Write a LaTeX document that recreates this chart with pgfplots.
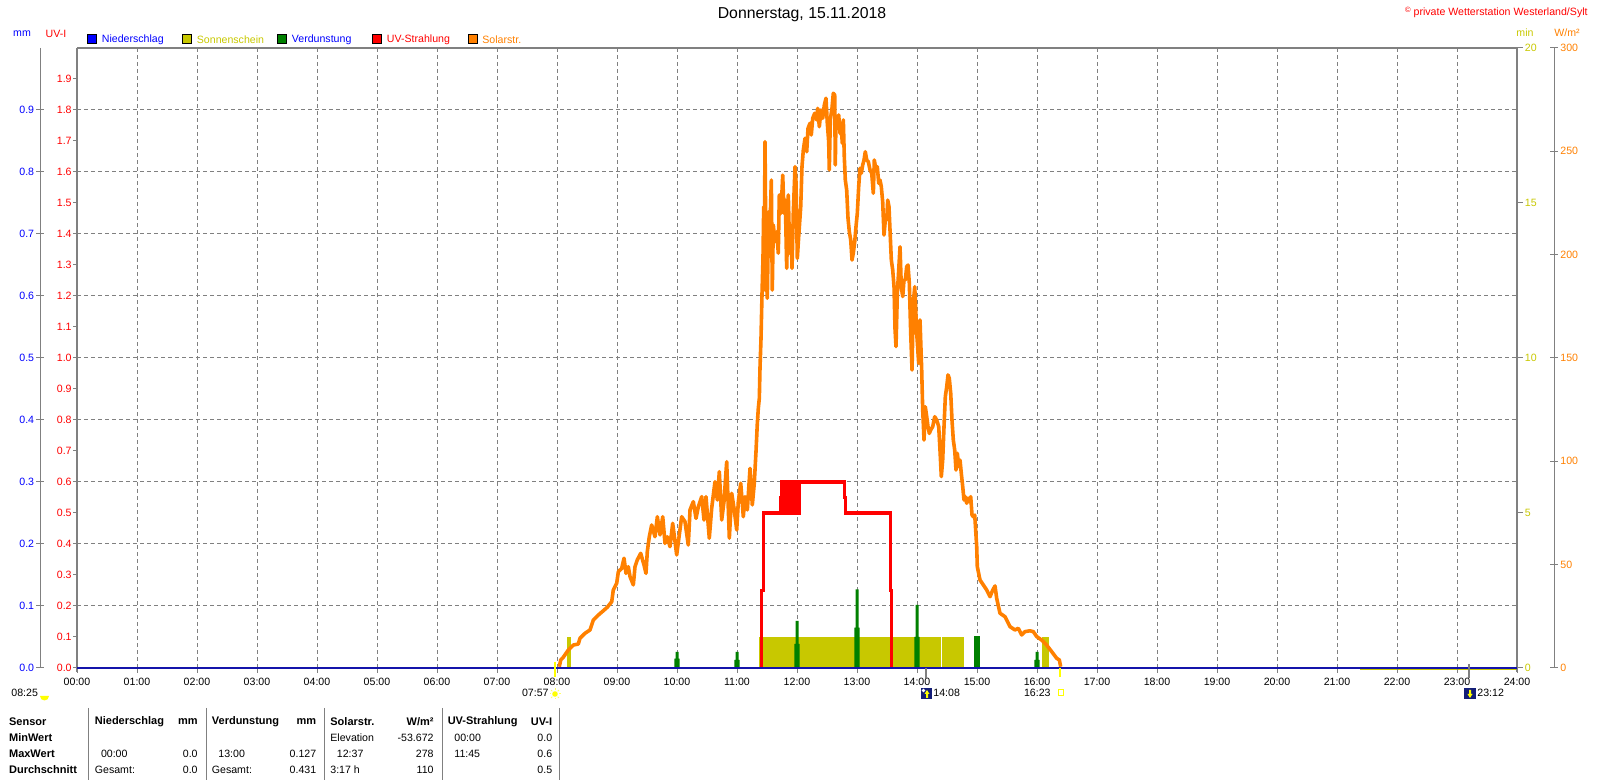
\documentclass[border=0pt]{standalone}
\usepackage{fontspec}
\setmainfont{Liberation Sans}
\usepackage{pgfplots}
\pgfplotsset{compat=1.18}
\usetikzlibrary{calc}
\definecolor{sunY}{RGB}{200,200,0}
\definecolor{evapG}{RGB}{0,128,0}
\definecolor{solO}{RGB}{255,128,0}
\definecolor{uvR}{RGB}{255,0,0}
\definecolor{rainB}{RGB}{0,0,255}
\definecolor{lineB}{RGB}{20,20,170}
\definecolor{axG}{RGB}{128,128,128}
\definecolor{brightY}{RGB}{255,255,0}
\definecolor{moonB}{RGB}{20,30,120}
\newcommand{\fs}{\fontsize{5.3pt}{6.3pt}\selectfont}
\newcommand{\fsb}{\fontsize{5.5pt}{6.5pt}\selectfont\bfseries}
\pgfplotsset{base/.style={width=720pt,height=310pt,scale only axis,at={(38.5pt,56pt)},anchor=south west,xmin=0,xmax=24,axis line style={draw=none},clip=false}}
\begin{document}
\begin{tikzpicture}
\path[use as bounding box] (0,0) rectangle (800pt,390pt);
% ---- Sonnenschein (min) + grid
\begin{axis}[base,ymin=0,ymax=20,xtick={1,...,23},ytick={2,4,...,18},xmajorgrids,ymajorgrids,
  major grid style={axG,line width=0.5pt,dash pattern=on 2pt off 1.5pt},
  xticklabels={},yticklabels={},major tick length=0pt,tick style={draw=none}]
\addplot[fill=sunY,draw=none] coordinates {(8.167,0)(8.167,1)(8.233,1)(8.233,0)} -- cycle;
\addplot[fill=sunY,draw=none] coordinates {(11.37,0)(11.37,1)(14.392,1)(14.392,0)} -- cycle;
\addplot[fill=sunY,draw=none] coordinates {(14.42,0)(14.42,1)(14.783,1)(14.783,0)} -- cycle;
\addplot[fill=sunY,draw=none] coordinates {(16.083,0)(16.083,1)(16.2,1)(16.2,0)} -- cycle;
\addplot[sunY,line width=1.5pt,yshift=-0.5pt] coordinates {(21.38,0)(24,0)};
\end{axis}
% ---- Verdunstung (mm)
\begin{axis}[base,ymin=0,ymax=1,ticks=none]
\addplot[fill=evapG,draw=none] coordinates {(9.958,0)(9.958,0.015)(9.975,0.015)(9.975,0.026)(10.025,0.026)(10.025,0.015)(10.042,0.015)(10.042,0)} -- cycle;
\addplot[fill=evapG,draw=none] coordinates {(10.958,0)(10.958,0.013)(10.975,0.013)(10.975,0.026)(11.025,0.026)(11.025,0.013)(11.042,0.013)(11.042,0)} -- cycle;
\addplot[fill=evapG,draw=none] coordinates {(11.958,0)(11.958,0.039)(11.975,0.039)(11.975,0.076)(12.025,0.076)(12.025,0.039)(12.042,0.039)(12.042,0)} -- cycle;
\addplot[fill=evapG,draw=none] coordinates {(12.958,0)(12.958,0.065)(12.975,0.065)(12.975,0.127)(13.025,0.127)(13.025,0.065)(13.042,0.065)(13.042,0)} -- cycle;
\addplot[fill=evapG,draw=none] coordinates {(13.958,0)(13.958,0.050)(13.975,0.050)(13.975,0.102)(14.025,0.102)(14.025,0.050)(14.042,0.050)(14.042,0)} -- cycle;
\addplot[fill=evapG,draw=none] coordinates {(14.958,0)(14.958,0.052)(15.042,0.052)(15.042,0)} -- cycle;
\addplot[fill=evapG,draw=none] coordinates {(15.958,0)(15.958,0.013)(15.975,0.013)(15.975,0.026)(16.025,0.026)(16.025,0.013)(16.042,0.013)(16.042,0)} -- cycle;
\end{axis}
% ---- UV-Strahlung (UV-I)
\begin{axis}[base,ymin=0,ymax=2,ticks=none]
\addplot[uvR,line width=1.6pt] coordinates {
(11.411,0)(11.411,0.25)(11.439,0.25)(11.439,0.5)(11.722,0.5)(11.722,0.55)(11.744,0.55)(11.744,0.6)
(11.772,0.6)(11.772,0.5)(11.78,0.5)(11.78,0.6)
(11.80,0.6)(11.80,0.55)(11.81,0.55)(11.81,0.6)
(11.83,0.6)(11.83,0.5)(11.84,0.5)(11.84,0.6)
(11.86,0.6)(11.86,0.55)(11.87,0.55)(11.87,0.6)
(11.89,0.6)(11.89,0.5)(11.90,0.5)(11.90,0.6)
(11.92,0.6)(11.92,0.55)(11.93,0.55)(11.93,0.6)
(11.96,0.6)(11.96,0.5)(11.97,0.5)(11.97,0.6)
(11.99,0.6)(11.99,0.55)(12.0,0.55)(12.0,0.6)
(12.03,0.6)(12.03,0.5)(12.04,0.5)(12.04,0.6)
(12.788,0.6)(12.788,0.55)(12.81,0.55)(12.81,0.5)(13.555,0.5)(13.555,0.25)(13.578,0.25)(13.578,0)};
\end{axis}
% ---- Solarstrahlung (W/m2)
\begin{axis}[base,ymin=0,ymax=300,ticks=none]
\addplot[solO,line width=1.8pt,line join=round] coordinates {
(8.038,0.6)(8.062,3.9)(8.105,5.2)(8.188,8.7)(8.272,11.1)(8.355,11.6)(8.383,14.4)(8.467,16.8)(8.55,18.4)
(8.605,23.2)(8.688,25.6)(8.772,27.7)(8.838,29.4)(8.912,32.1)(8.938,37.7)(8.995,41)(9.022,46.6)(9.078,48.2)
(9.117,53.1)(9.15,45.8)(9.188,49)(9.217,44.2)(9.272,40.2)(9.3,49)(9.338,52.3)(9.395,55.5)(9.45,49.8)
(9.483,45.8)(9.505,56.3)(9.538,63.5)(9.578,69.2)(9.633,63.5)(9.672,73.2)(9.717,64.4)(9.762,73.2)(9.8,60.3)
(9.838,63.5)(9.883,58.7)(9.928,70)(9.967,61.1)(9.995,54.7)(10.038,64.4)(10.078,73.2)(10.133,70.8)(10.188,59.5)
(10.217,76.5)(10.272,80.5)(10.317,72.4)(10.355,78)(10.412,82.9)(10.45,71.6)(10.483,82.9)(10.538,62.8)
(10.578,77.3)(10.633,90.1)(10.672,81.3)(10.705,95)(10.745,71.6)(10.783,80.5)(10.828,99.8)(10.872,62.8)
(10.912,84.5)(10.95,77.3)(10.995,66.8)(11.022,80.5)(11.062,89.4)(11.105,73.2)(11.133,82.9)(11.172,76.5)
(11.217,96.6)(11.255,78.9)(11.288,89.4)(11.317,105)(11.338,118)(11.355,125.6)(11.372,130.5)(11.383,145)
(11.4,159.5)(11.417,181.3)(11.433,198.2)(11.445,223.2)(11.45,182.9)(11.467,254.7)(11.483,194.2)(11.505,178.9)
(11.528,220.8)(11.55,213.5)(11.572,236.1)(11.588,182.9)(11.605,214.4)(11.633,206.3)(11.662,211.1)(11.688,200.7)
(11.705,228.9)(11.733,220)(11.762,238.5)(11.783,220)(11.805,226.4)(11.828,193.4)(11.855,228.9)(11.878,200.7)
(11.9,211.9)(11.917,193.4)(11.938,220)(11.967,242.6)(11.983,235.3)(12.005,198.2)(12.028,208.7)(12.062,223.2)
(12.083,242.6)(12.105,250.6)(12.133,256.3)(12.162,249.8)(12.183,261.1)(12.217,263.6)(12.238,257.9)(12.262,266)
(12.295,268.4)(12.328,265.2)(12.345,270.8)(12.372,261.9)(12.4,270)(12.428,266)(12.455,272.4)(12.483,275.7)
(12.505,263.6)(12.528,254.7)(12.538,241)(12.555,265.2)(12.583,270.8)(12.605,278.1)(12.628,277.3)(12.638,243.4)
(12.65,266.8)(12.672,261.9)(12.695,267.6)(12.717,258.7)(12.738,261.1)(12.755,253.9)(12.772,265.2)(12.788,247.4)
(12.805,236.1)(12.828,231.3)(12.85,217.6)(12.872,211.1)(12.895,207.1)(12.917,197.4)(12.938,200.7)(12.962,206.3)
(12.983,213.5)(13.005,220)(13.028,232.9)(13.05,241.8)(13.072,239.4)(13.095,243.4)(13.117,245.8)(13.138,249.8)
(13.162,245.8)(13.188,245)(13.217,241)(13.245,239.4)(13.272,229.7)(13.288,245.8)(13.317,241)(13.338,242.6)
(13.362,234.5)(13.383,236.1)(13.405,232.9)(13.428,225.6)(13.45,209.5)(13.472,216.8)(13.495,216.8)(13.512,226.4)
(13.533,223.2)(13.55,211.9)(13.572,197.4)(13.595,192.6)(13.617,184.5)(13.633,164.4)(13.65,155.5)(13.672,181.3)
(13.695,192.6)(13.717,203.8)(13.738,184.5)(13.762,179.7)(13.783,187.7)(13.805,187.7)(13.828,194.2)(13.85,195)
(13.872,186.1)(13.895,162)(13.917,144.2)(13.938,176.5)(13.962,184.5)(13.995,162)(14.028,147.4)(14.05,168.4)
(14.078,144.2)(14.095,124.8)(14.117,110.3)(14.138,126.4)(14.162,121.6)(14.183,116.8)(14.205,113.5)(14.228,115.2)
(14.262,116.8)(14.295,121.6)(14.328,120)(14.362,116.8)(14.383,105.5)(14.405,92.6)(14.428,100.6)(14.45,116.8)
(14.472,131.3)(14.495,136.1)(14.517,141.8)(14.538,140.2)(14.562,132.9)(14.583,120)(14.605,110.3)(14.628,105.5)
(14.65,95.8)(14.672,103.9)(14.695,97.4)(14.717,100.6)(14.738,94.2)(14.762,87.7)(14.783,81.3)(14.805,82.9)
(14.828,79.7)(14.85,82.1)(14.872,80.5)(14.895,82.9)(14.917,74)(14.938,73.2)(14.962,74)(14.995,58.7)(15.005,49)
(15.05,42.6)(15.105,40.2)(15.162,37.7)(15.217,34.5)(15.262,37.7)(15.3,39.7)(15.328,33.7)(15.383,26.5)
(15.467,24.8)(15.55,20)(15.633,18.4)(15.688,19.2)(15.745,16)(15.8,17.6)(15.883,18)(15.938,17.6)(15.995,15.2)
(16.078,13.5)(16.16,11.1)(16.245,7.9)(16.328,4.7)(16.372,3.9)(16.395,0.6)};
\end{axis}
% ---- frame and scales
\begin{scope}[x=0.5pt,y=-0.5pt,shift={(0pt,390pt)}]
\draw[axG,line width=1pt] (77,48)--(1517,48);
\draw[axG,line width=1pt] (77,48)--(77,672);
\draw[axG,line width=1pt] (1517,48)--(1517,672);
\draw[axG,line width=0.5pt] (40.7,48)--(40.7,668);
\draw[axG,line width=0.5pt] (1554,48)--(1554,668);
\foreach \i in {0,...,19}{
  \pgfmathtruncatemacro\a{\i/10}\pgfmathtruncatemacro\b{\i-10*\a}
  \draw[axG,line width=0.5pt] (73,{668-31*\i})--(77,{668-31*\i});
  \node[anchor=east,inner sep=0,text=uvR,font=\fs] at (72,{668-31*\i}) {\a.\b};}
\foreach \i in {0,...,9}{
  \draw[axG,line width=0.5pt] (36,{668-62*\i})--(44,{668-62*\i});
  \node[anchor=east,inner sep=0,text=rainB,font=\fs] at (34.5,{668-62*\i}) {0.\i};}
\foreach \m in {0,5,10,15,20}{
  \draw[axG,line width=0.5pt] (1517,{668-31*\m})--(1523,{668-31*\m});
  \node[anchor=west,inner sep=0,text=sunY,font=\fs] at (1524.5,{668-31*\m}) {\m};}
\foreach \w in {0,50,...,300}{
  \draw[axG,line width=0.5pt] (1550,{668-\w*2.06667})--(1558,{668-\w*2.06667});
  \node[anchor=west,inner sep=0,text=solO,font=\fs] at (1560,{668-\w*2.06667}) {\w};}
\foreach \h in {0,...,24}{
  \draw[axG,line width=0.5pt] ({77+60*\h},668)--({77+60*\h},673);
  \node[inner sep=0,font=\fs] at ({77+60*\h},682) {\ifnum\h<10 0\fi\h:00};}
\end{scope}
% ---- Niederschlag (mm) zero line on top
\begin{axis}[base,ymin=0,ymax=1,ticks=none]
\addplot[lineB,line width=1pt] coordinates {(0,0)(24,0)};
\end{axis}
% ---- annotations
\begin{scope}[x=0.5pt,y=-0.5pt,shift={(0pt,390pt)}]
\node[font=\fontsize{7.9pt}{9pt}\selectfont] at (802,15) {Donnerstag, 15.11.2018};
\node[anchor=east,inner sep=0,text=uvR,font=\fs] at (1588,12) {\raisebox{1.5pt}{\fontsize{3.8pt}{4pt}\selectfont ©} private Wetterstation Westerland/Sylt};
\node[text=rainB,font=\fs,inner sep=0] at (22,34) {mm};
\node[text=uvR,font=\fs,inner sep=0] at (56,34) {UV-I};
\node[text=sunY,font=\fs,inner sep=0] at (1525,33) {min};
\node[text=solO,font=\fs,inner sep=0] at (1567,33) {W/m²};
\foreach \x/\c/\t/\tc in {87.5/rainB/Niederschlag/rainB,182.5/sunY/Sonnenschein/sunY,277.5/evapG/Verdunstung/rainB,372.5/uvR/UV-Strahlung/uvR,468/solO/Solarstr./solO}{
  \filldraw[fill=\c,draw=black,line width=0.5pt] (\x,35) rectangle (\x+9,44);
  \node[anchor=west,inner sep=0,text=\tc,font=\fs] at (\x+14,39.5) {\t};}
% sun / moon markers
\draw[brightY,line width=1pt] (555,662)--(555,677);
\draw[brightY,line width=1pt] (1060,668)--(1060,677);
\draw[axG,line width=1pt] (925.7,668)--(925.7,678);
\draw[axG,line width=1pt] (1469,664)--(1469,678);
\node[anchor=west,inner sep=0,font=\fs] at (11,693) {08:25};
\fill[brightY] (40,696) arc (180:0:4.5) -- cycle;
\node[anchor=east,inner sep=0,font=\fs] at (549,693) {07:57};
\fill[brightY] (555,694) circle (2.8);
\foreach \a in {0,45,...,315}{\draw[brightY!60,line width=0.5pt] ($(555,694)+(\a:3.8)$)--($(555,694)+(\a:5.5)$);}
\fill[moonB] (921,688) rectangle (932,699);
\fill[white] (923.5,690.5) circle (1.8);
\fill[brightY] (927,690)--(929.5,694)--(928,694)--(928,698)--(926,698)--(926,694)--(924.5,694)--cycle;
\node[anchor=west,inner sep=0,font=\fs] at (933,693) {14:08};
\node[anchor=east,inner sep=0,font=\fs] at (1051,693) {16:23};
\draw[brightY,line width=0.5pt] (1058,690) rectangle (1063,696);
\fill[moonB] (1464,688) rectangle (1476,699);
\fill[brightY] (1470,698)--(1472.5,694)--(1471,694)--(1471,690)--(1469,690)--(1469,694)--(1467.5,694)--cycle;
\node[anchor=west,inner sep=0,font=\fs] at (1477,693) {23:12};
% table
\foreach \x in {88.5,206,324.5,442,559.5}{\draw[axG,line width=0.5pt] (\x,708)--(\x,780);}
\node[anchor=west,inner sep=0,font=\fsb] at (8.7,722) {Sensor};
\node[anchor=west,inner sep=0,font=\fsb] at (8.7,738) {MinWert};
\node[anchor=west,inner sep=0,font=\fsb] at (8.7,754) {MaxWert};
\node[anchor=west,inner sep=0,font=\fsb] at (8.7,770) {Durchschnitt};
\node[anchor=west,inner sep=0,font=\fsb] at (94.5,722) {Niederschlag};
\node[anchor=east,inner sep=0,font=\fsb] at (198,722) {mm};
\node[anchor=west,inner sep=0,font=\fs] at (100.6,754) {00:00};
\node[anchor=east,inner sep=0,font=\fs] at (198,754) {0.0};
\node[anchor=west,inner sep=0,font=\fs] at (94.5,770) {Gesamt:};
\node[anchor=east,inner sep=0,font=\fs] at (198,770) {0.0};
\node[anchor=west,inner sep=0,font=\fsb] at (211.5,722) {Verdunstung};
\node[anchor=east,inner sep=0,font=\fsb] at (316.6,722) {mm};
\node[anchor=west,inner sep=0,font=\fs] at (218,754) {13:00};
\node[anchor=east,inner sep=0,font=\fs] at (316.6,754) {0.127};
\node[anchor=west,inner sep=0,font=\fs] at (211.5,770) {Gesamt:};
\node[anchor=east,inner sep=0,font=\fs] at (316.6,770) {0.431};
\node[anchor=west,inner sep=0,font=\fsb] at (330,722) {Solarstr.};
\node[anchor=east,inner sep=0,font=\fsb] at (434,722) {W/m²};
\node[anchor=west,inner sep=0,font=\fs] at (330,738) {Elevation};
\node[anchor=east,inner sep=0,font=\fs] at (434,738) {-53.672};
\node[anchor=west,inner sep=0,font=\fs] at (336.5,754) {12:37};
\node[anchor=east,inner sep=0,font=\fs] at (434,754) {278};
\node[anchor=west,inner sep=0,font=\fs] at (330,770) {3:17 h};
\node[anchor=east,inner sep=0,font=\fs] at (434,770) {110};
\node[anchor=west,inner sep=0,font=\fsb] at (447.4,722) {UV-Strahlung};
\node[anchor=east,inner sep=0,font=\fsb] at (552.6,722) {UV-I};
\node[anchor=west,inner sep=0,font=\fs] at (454,738) {00:00};
\node[anchor=east,inner sep=0,font=\fs] at (552.6,738) {0.0};
\node[anchor=west,inner sep=0,font=\fs] at (454,754) {11:45};
\node[anchor=east,inner sep=0,font=\fs] at (552.6,754) {0.6};
\node[anchor=east,inner sep=0,font=\fs] at (552.6,770) {0.5};
\end{scope}
\end{tikzpicture}
\end{document}
